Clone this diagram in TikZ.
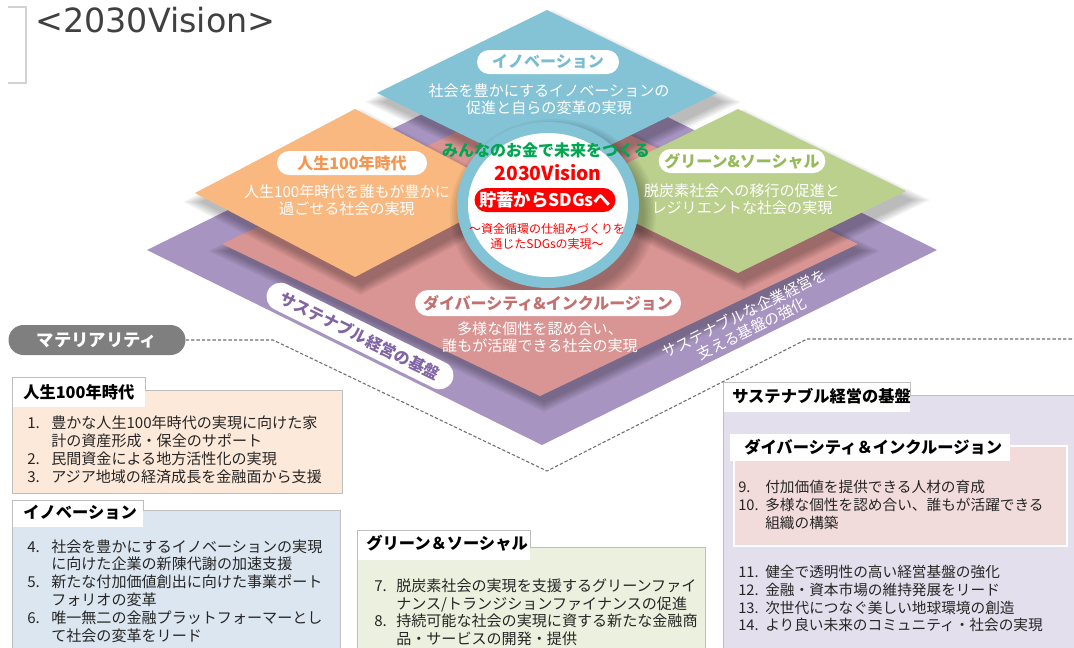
\documentclass[tikz,border=0pt]{standalone}
\usepackage{fontspec}
\setmainfont{Noto Sans CJK JP}
\newfontfamily\titlefont{DejaVu Sans}
\definecolor{cPurple}{RGB}{167,148,193}
\definecolor{cPink}{RGB}{217,149,147}
\definecolor{cOrange}{RGB}{249,184,128}
\definecolor{cGreen}{RGB}{188,208,142}
\definecolor{cBlue}{RGB}{131,195,213}
\definecolor{cRing}{RGB}{130,195,213}
\definecolor{tBlue}{RGB}{120,188,210}
\definecolor{tOrange}{RGB}{244,150,80}
\definecolor{tGreen}{RGB}{150,186,90}
\definecolor{tPink}{RGB}{196,112,112}
\definecolor{tPurple}{RGB}{128,100,164}
\definecolor{vGreen}{RGB}{0,166,80}
\definecolor{vRed}{RGB}{255,0,0}
\definecolor{matGray}{RGB}{127,127,127}
\definecolor{fPeach}{RGB}{253,233,217}
\definecolor{fBlue}{RGB}{220,230,241}
\definecolor{fGreen}{RGB}{235,241,222}
\definecolor{fLav}{RGB}{228,223,236}
\definecolor{fRose}{RGB}{242,220,219}
\definecolor{bGray}{RGB}{191,191,191}
\definecolor{txtDark}{RGB}{38,38,38}
\definecolor{titleGray}{RGB}{64,64,64}
\definecolor{dashGray}{RGB}{110,110,110}
\definecolor{brGray}{RGB}{210,210,210}

\newcommand{\diafill}[5][]{\fill[#1] ({#2},{#3-#5}) -- ({#2+#4},{#3}) -- ({#2},{#3+#5}) -- ({#2-#4},{#3}) -- cycle;}
\newcommand{\diashadow}[6]{%
  \foreach \k in {0,...,6}{\fill[black,opacity=0.045] ({#1+#5},{#2+#6-#4-1.5*\k}) -- ({#1+#5+#3+3*\k},{#2+#6}) -- ({#1+#5},{#2+#6+#4+1.5*\k}) -- ({#1+#5-#3-3*\k},{#2+#6}) -- cycle;}}

\begin{document}
\begin{tikzpicture}[x=0.75pt,y=-0.75pt,
  pill/.style={fill=white, inner sep=0pt, minimum height=18pt, rounded corners=9pt, font=\bfseries\fontsize{12}{12}\selectfont},
  desc/.style={text=white, align=center, inner sep=0pt, font=\fontsize{11.3}{12.75}\selectfont},
  tabtxt/.style={anchor=west, inner sep=0pt, text=black, font=\bfseries\fontsize{12.2}{12.2}\selectfont},
  listtxt/.style={anchor=base west, inner sep=0pt, text=txtDark, align=left, font=\fontsize{11.3}{13.3}\selectfont},
  dashline/.style={draw=dashGray, line width=0.8pt, dash pattern=on 2.5pt off 1.5pt},
  boxline/.style={draw=bGray, line width=0.6pt}
]
\useasboundingbox (0,0) rectangle (1074,647);

% title
\draw[brGray, line width=0.8pt] (8,7) -- (26,7) -- (26,83) -- (8,83);
\node[anchor=base west, inner sep=0pt, text=titleGray, font=\titlefont\fontsize{25}{25}\selectfont] (title) at (35,32) {<2030Vision>};

% layered diamonds
\diafill[cPurple]{542}{250}{395}{195}
\diashadow{540}{244}{318}{152}{4}{7}
\diafill[cPink]{540}{244}{318}{152}
\diashadow{355}{193}{160}{84}{6}{9}
\diafill[cOrange]{355}{193}{160}{84}
\diashadow{738}{191}{168}{82}{6}{9}
\diafill[cGreen]{738}{191}{168}{82}
\diashadow{547}{93}{170}{83}{6}{9}
\diafill[cBlue]{547}{93}{170}{83}

% centre circle
\foreach \k in {0,...,6}{\fill[black,opacity=0.045] (553,214) ellipse [x radius={91+2*\k}, y radius={83+2*\k}];}
\fill[cRing] (548,205) ellipse [x radius=91, y radius=83];
\fill[white] (548,205) ellipse [x radius=80, y radius=72];

% diamond labels
\node[pill, minimum width=106.5pt, text=tBlue] (pInno) at (548,62) {イノベーション};
\node[desc] (dInno) at (549,99.5) {社会を豊かにするイノベーションの\\促進と自らの変革の実現};
\node[pill, minimum width=112.5pt, text=tOrange] (pLife) at (352,163) {人生100年時代};
\node[desc] (dLife) at (347,200) {人生100年時代を誰もが豊かに\\過ごせる社会の実現};
\node[pill, minimum width=125pt, text=tGreen] (pGreen) at (742,161) {グリーン\&ソーシャル};
\node[desc] (dGreen) at (742,199) {脱炭素社会への移行の促進と\\レジリエントな社会の実現};
\node[pill, minimum width=199.5pt, minimum height=19.5pt, rounded corners=9.75pt, text=tPink] (pDiv) at (548,303) {ダイバーシティ\&インクルージョン};
\node[desc] (dDiv) at (540,337) {多様な個性を認め合い、\\誰もが活躍できる社会の実現};
\node[pill, minimum width=154pt, minimum height=21pt, rounded corners=10.5pt, text=tPurple, rotate=-26.3] (pSus) at (360,336) {サステナブル経営の基盤};
\node[desc, rotate=26.3] (dSus) at (748,321) {サステナブルな企業経営を\\支える基盤の強化};

% circle texts
\node[inner sep=0pt, text=vGreen, font=\bfseries\fontsize{12}{12}\selectfont] (vMin) at (546,150) {みんなのお金で未来をつくる};
\node[inner sep=0pt, text=vRed, font=\bfseries\fontsize{14.5}{14.5}\selectfont] (vTitle) at (548,173) {2030Vision};
\node[fill=vRed, text=white, inner sep=0pt, minimum width=105.75pt, minimum height=18pt, rounded corners=9pt, font=\bfseries\fontsize{13}{13}\selectfont] (vPill) at (545,200) {貯蓄からSDGsへ};
\node[inner sep=0pt, text=vRed, align=center, font=\fontsize{9}{11.25}\selectfont] (vSub) at (547,236) {～資金循環の仕組みづくりを\\通じたSDGsの実現～};

% materiality pill and dashed guide
\node[fill=matGray, text=white, inner sep=0pt, minimum width=132.75pt, minimum height=22.5pt, rounded corners=11.25pt, font=\bfseries\fontsize{13}{13}\selectfont] (mat) at (97,340) {マテリアリティ};
\coordinate (d1) at (273,340);
\coordinate (d2) at (547,471);
\coordinate (d3) at (807,339);
\coordinate (d4) at (1074,339);
\draw[dashline] (mat.east) -- (d1) -- (d2) -- (d3) -- (d4);

% box: life
\filldraw[fill=fPeach, boxline] (12,390) rectangle (342,493);
\fill[white] (12,377) rectangle (145,407);
\draw[boxline] (12,407) -- (12,377) -- (145,377) -- (145,390);
\node[tabtxt] (tLife) at (23,392) {人生100年時代};
\node[listtxt] (lLife) at (27,428.6) {\begin{tabular}[t]{@{}p{18pt}@{}l@{}}1.&豊かな人生100年時代の実現に向けた家\\&計の資産形成・保全のサポート\\2.&民間資金による地方活性化の実現\\3.&アジア地域の経済成長を金融面から支援\end{tabular}};

% box: innovation
\filldraw[fill=fBlue, boxline] (12,510) rectangle (340,650);
\fill[white] (12,500) rectangle (143,527);
\draw[boxline] (12,527) -- (12,500) -- (143,500) -- (143,510);
\node[tabtxt] (tInno) at (23,512) {イノベーション};
\node[listtxt, font=\fontsize{11.3}{13.1}\selectfont] (lInno) at (27,552) {\begin{tabular}[t]{@{}p{18pt}@{}l@{}}4.&社会を豊かにするイノベーションの実現\\&に向けた企業の新陳代謝の加速支援\\5.&新たな付加価値創出に向けた事業ポート\\&フォリオの変革\\6.&唯一無二の金融プラットフォーマーとし\\&て社会の変革をリード\end{tabular}};

% box: green
\filldraw[fill=fGreen, boxline] (357,547) rectangle (705,650);
\fill[white] (357,530) rectangle (530,560);
\draw[boxline] (357,560) -- (357,530) -- (530,530) -- (530,547);
\node[tabtxt] (tGreen) at (366,543) {グリーン＆ソーシャル};
\node[listtxt, font=\fontsize{11.3}{12.2}\selectfont] (lGreen) at (374,591.5) {\begin{tabular}[t]{@{}p{16.5pt}@{}l@{}}7.&脱炭素社会の実現を支援するグリーンファイ\\&ナンス/トランジションファイナンスの促進\\8.&持続可能な社会の実現に資する新たな金融商\\&品・サービスの開発・提供\end{tabular}};

% box: sustainable base
\filldraw[fill=fLav, boxline] (723,395) rectangle (1080,650);
\fill[white] (723,382) rectangle (910,412);
\draw[boxline] (723,412) -- (723,382) -- (910,382) -- (910,395);
\node[tabtxt] (tSus) at (732,396) {サステナブル経営の基盤};
\filldraw[fill=fRose, draw=white, line width=1.5pt] (734,446) rectangle (1067,546);
\fill[white] (730,434) rectangle (1010,461);
\node[tabtxt] (tDiv) at (744,447) {ダイバーシティ＆インクルージョン};
\node[listtxt, font=\fontsize{11}{13.3}\selectfont] (lDiv) at (738,492.6) {\begin{tabular}[t]{@{}p{20.25pt}@{}l@{}}9.&付加価値を提供できる人材の育成\\10.&多様な個性を認め合い、誰もが活躍できる\\&組織の構築\end{tabular}};
\node[listtxt, font=\fontsize{11}{13.3}\selectfont] (lSus) at (738,577.6) {\begin{tabular}[t]{@{}p{20.25pt}@{}l@{}}11.&健全で透明性の高い経営基盤の強化\\12.&金融・資本市場の維持発展をリード\\13.&次世代につなぐ美しい地球環境の創造\\14.&より良い未来のコミュニティ・社会の実現\end{tabular}};
\end{tikzpicture}
\end{document}
